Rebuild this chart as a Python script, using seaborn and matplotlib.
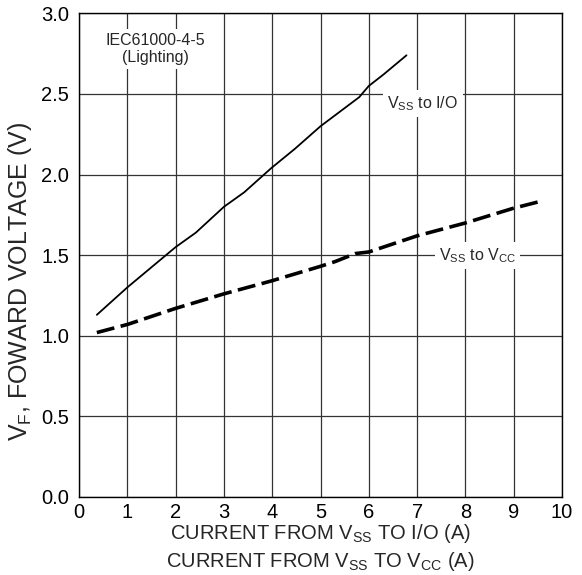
import pandas as pd
import matplotlib
matplotlib.use('Agg')
import matplotlib.pyplot as plt
import seaborn as sns

# кривые
io_current = [0.37, 1.0, 2.0, 2.42, 3.0, 3.42, 3.98, 4.47, 5.0, 5.8, 6.0, 6.3, 6.78]
io_voltage = [1.13, 1.30, 1.55, 1.64, 1.80, 1.89, 2.04, 2.16, 2.30, 2.48, 2.55, 2.62, 2.74]

vcc_current = [0.37, 1.0, 2.0, 3.0, 3.98, 4.99, 5.3, 5.72, 6.0, 7.0, 8.0, 8.98, 9.5]
vcc_voltage = [1.02, 1.07, 1.17, 1.26, 1.34, 1.43, 1.46, 1.51, 1.52, 1.62, 1.70, 1.79, 1.83]

x_ticks = [0, 1, 2, 3, 4, 5, 6, 7, 8, 9, 10]
y_ticks = [0.0, 0.5, 1.0, 1.5, 2.0, 2.5, 3.0]
y_tick_labels = ['0.0', '0.5', '1.0', '1.5', '2.0', '2.5', '3.0']

df_io = pd.DataFrame({'current': io_current, 'voltage': io_voltage})
df_vcc = pd.DataFrame({'current': vcc_current, 'voltage': vcc_voltage})

sns.set_style('white')
plt.rcParams['font.family'] = ['Liberation Sans', 'DejaVu Sans']
plt.rcParams['mathtext.fontset'] = 'custom'
plt.rcParams['mathtext.rm'] = 'Liberation Sans'
plt.rcParams['mathtext.it'] = 'Liberation Sans'
plt.rcParams['mathtext.default'] = 'rm'

fig = plt.figure(figsize=(5.82, 5.75), dpi=100)
ax = fig.add_axes([0.1357, 0.1357, 0.830, 0.841])

# сетка
ax.set_axisbelow(True)
ax.grid(True, color='#333333', linewidth=0.9)

sns.lineplot(data=df_io, x='current', y='voltage', color='black', linewidth=1.3, ax=ax)
sns.lineplot(data=df_vcc, x='current', y='voltage', color='black', linewidth=2.6, ax=ax)
ax.lines[-1].set_dashes([5, 1.8])

ax.set_xlim(0, 10)
ax.set_ylim(0, 3.0)
ax.set_xticks(x_ticks)
ax.set_yticks(y_ticks)
ax.set_yticklabels(y_tick_labels)
ax.tick_params(length=0, labelsize=14.5, colors='black')
ax.tick_params(axis='y', pad=7)
ax.tick_params(axis='x', pad=4)

for s in ax.spines.values():
    s.set_color('black')
    s.set_linewidth(1.0)

ax.set_xlabel('CURRENT FROM V$_{SS}$ TO I/O (A)\nCURRENT FROM V$_{SS}$ TO V$_{CC}$ (A)',
              fontsize=14.5, labelpad=0, linespacing=1.3)
ax.set_ylabel('V$_{F}$, FOWARD VOLTAGE (V)', fontsize=18, labelpad=2)
ax.yaxis.set_label_coords(-0.094, 0.445)

box = dict(facecolor='white', edgecolor='none', pad=3)
ax.text(1.58, 2.78, 'IEC61000-4-5\n(Lighting)', ha='center', va='center',
        fontsize=11.5, bbox=box)
ax.text(7.12, 2.44, 'V$_{SS}$ to I/O', ha='center', va='center', fontsize=11.5, bbox=box)
ax.text(8.25, 1.50, 'V$_{SS}$ to V$_{CC}$', ha='center', va='center', fontsize=11.5, bbox=box)

plt.savefig('out.png', dpi=100)
plt.close()
